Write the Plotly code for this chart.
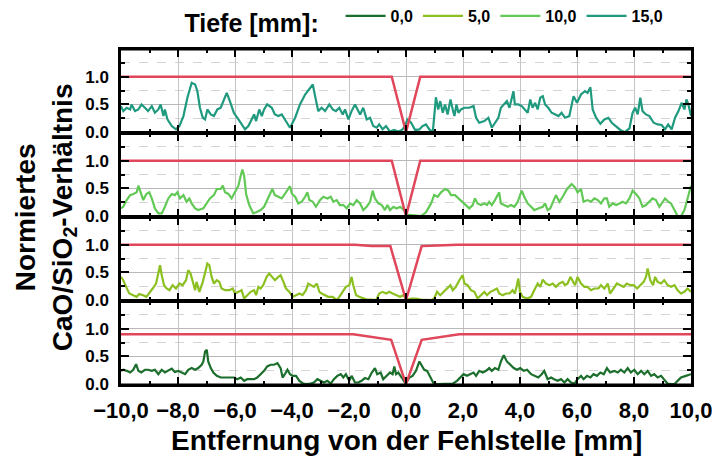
import plotly.graph_objects as go
from plotly.subplots import make_subplots

# ---------------- data ----------------
# Depth 15,0 mm (top panel)
x15 = [-10.0,-9.92,-9.80,-9.68,-9.63,-9.51,-9.39,-9.28,-9.16,-9.05,-8.92,-8.81,-8.69,-8.61,-8.51,-8.46,-8.37,-8.22,-8.07,-7.95,
       -7.81,-7.67,-7.52,-7.40,-7.32,-7.23,-7.13,-7.05,-6.97,-6.85,-6.74,-6.62,-6.50,-6.41,-6.29,-6.18,-6.04,-5.88,-5.77,-5.65,
       -5.53,-5.42,-5.33,-5.26,-5.15,-5.06,-4.98,-4.87,-4.71,-4.60,-4.48,-4.36,-4.25,-4.07,-3.89,-3.72,-3.54,-3.39,-3.27,-3.19,
       -3.08,-2.96,-2.84,-2.69,-2.57,-2.46,-2.34,-2.22,-2.14,-2.02,-1.91,-1.79,-1.71,-1.61,-1.50,-1.38,-1.26,-1.15,-1.03,-0.94,
       -0.82,-0.70,-0.56,-0.42,-0.27,-0.12,-0.04,0.05,0.18,0.32,0.47,0.58,0.70,0.82,0.94,1.05,1.13,1.20,1.29,1.37,
       1.46,1.56,1.64,1.70,1.77,1.84,1.93,2.05,2.22,2.37,2.46,2.57,2.75,2.89,3.01,3.12,3.24,3.33,3.45,3.54,
       3.63,3.71,3.77,3.82,3.94,4.06,4.18,4.27,4.36,4.44,4.53,4.62,4.71,4.80,4.88,4.99,5.11,5.23,5.35,5.46,
       5.58,5.73,5.81,5.88,6.00,6.14,6.28,6.37,6.47,6.55,6.67,6.82,6.96,7.10,7.22,7.37,7.52,7.68,7.84,7.95,
       8.04,8.13,8.22,8.30,8.42,8.54,8.69,8.83,8.97,9.09,9.20,9.32,9.44,9.56,9.67,9.77,9.84,9.91,10.0]
y15 = [0.47,0.38,0.44,0.41,0.50,0.38,0.41,0.50,0.44,0.38,0.47,0.35,0.41,0.50,0.29,0.41,0.23,0.11,0.05,0.11,
       0.29,0.62,0.89,0.86,0.74,0.44,0.26,0.23,0.41,0.32,0.29,0.41,0.44,0.56,0.71,0.56,0.35,0.23,0.14,0.05,
       0.11,0.23,0.32,0.20,0.41,0.29,0.41,0.50,0.44,0.32,0.29,0.32,0.23,0.08,0.26,0.50,0.68,0.77,0.86,0.65,
       0.38,0.44,0.38,0.50,0.41,0.38,0.44,0.32,0.41,0.23,0.38,0.50,0.41,0.32,0.44,0.23,0.26,0.11,0.08,0.14,
       0.05,0.11,0.01,0.04,0.01,0.05,0.11,0.23,0.17,0.04,0.05,0.11,0.14,0.05,0.00,0.63,0.41,0.56,0.35,0.50,
       0.32,0.59,0.41,0.29,0.50,0.35,0.41,0.44,0.44,0.47,0.26,0.17,0.20,0.26,0.08,0.17,0.26,0.44,0.50,0.56,
       0.44,0.65,0.74,0.50,0.50,0.47,0.41,0.35,0.59,0.44,0.53,0.41,0.62,0.65,0.50,0.44,0.35,0.32,0.29,0.35,
       0.26,0.29,0.50,0.65,0.53,0.68,0.74,0.71,0.81,0.41,0.26,0.15,0.23,0.26,0.17,0.11,0.04,0.00,0.07,0.35,
       0.44,0.32,0.62,0.38,0.32,0.29,0.17,0.14,0.13,0.05,0.14,0.05,0.26,0.38,0.53,0.41,0.59,0.50,0.29]

# Depth 10,0 mm
x10 = [-10.0,-9.92,-9.80,-9.68,-9.57,-9.45,-9.39,-9.32,-9.22,-9.11,-9.01,-8.92,-8.81,-8.69,-8.57,-8.46,-8.34,-8.22,-8.11,-8.02,
       -7.93,-7.81,-7.70,-7.60,-7.52,-7.40,-7.29,-7.11,-6.99,-6.88,-6.74,-6.64,-6.50,-6.43,-6.35,-6.23,-6.12,-6.00,-5.88,-5.80,
       -5.74,-5.68,-5.61,-5.50,-5.36,-5.22,-5.10,-4.98,-4.87,-4.77,-4.69,-4.60,-4.48,-4.36,-4.25,-4.16,-4.07,-4.00,-3.89,-3.78,
       -3.66,-3.54,-3.46,-3.39,-3.27,-3.16,-3.02,-2.90,-2.76,-2.64,-2.55,-2.43,-2.32,-2.20,-2.08,-1.96,-1.85,-1.73,-1.61,-1.50,
       -1.38,-1.26,-1.17,-1.09,-0.97,-0.85,-0.74,-0.65,-0.56,-0.44,-0.33,-0.21,-0.07,0.02,0.18,0.35,0.53,0.70,0.88,0.99,
       1.11,1.23,1.37,1.49,1.58,1.72,1.84,1.99,2.11,2.22,2.34,2.42,2.51,2.63,2.75,2.84,2.92,3.01,3.12,3.27,
       3.33,3.45,3.57,3.68,3.80,3.92,4.06,4.15,4.27,4.39,4.50,4.64,4.80,4.88,4.97,5.06,5.15,5.26,5.38,5.50,
       5.65,5.81,5.93,6.02,6.14,6.23,6.37,6.49,6.61,6.73,6.84,6.96,7.05,7.13,7.25,7.37,7.49,7.60,7.72,7.84,
       7.95,8.07,8.19,8.30,8.42,8.54,8.65,8.77,8.89,9.01,9.09,9.20,9.30,9.42,9.53,9.65,9.77,9.88,10.0]
y10 = [0.14,0.17,0.29,0.38,0.40,0.43,0.55,0.43,0.29,0.40,0.43,0.32,0.14,0.05,0.05,0.17,0.32,0.40,0.38,0.43,
       0.32,0.38,0.26,0.32,0.23,0.14,0.11,0.14,0.23,0.32,0.38,0.49,0.49,0.55,0.43,0.40,0.32,0.43,0.55,0.73,
       0.84,0.73,0.40,0.20,0.05,0.08,0.11,0.17,0.29,0.43,0.49,0.38,0.35,0.32,0.40,0.46,0.54,0.40,0.35,0.23,
       0.26,0.35,0.43,0.29,0.26,0.17,0.29,0.35,0.32,0.35,0.26,0.29,0.20,0.20,0.14,0.23,0.20,0.29,0.23,0.11,
       0.17,0.26,0.46,0.32,0.23,0.20,0.11,0.20,0.11,0.17,0.14,0.17,0.11,0.03,0.02,0.00,0.00,0.07,0.23,0.38,
       0.35,0.43,0.49,0.46,0.38,0.38,0.32,0.26,0.20,0.14,0.20,0.32,0.23,0.20,0.23,0.20,0.26,0.20,0.29,0.43,
       0.23,0.20,0.17,0.20,0.17,0.26,0.46,0.35,0.23,0.17,0.11,0.14,0.17,0.23,0.11,0.14,0.26,0.38,0.26,0.35,
       0.49,0.58,0.52,0.43,0.49,0.26,0.29,0.26,0.32,0.29,0.23,0.32,0.32,0.17,0.23,0.20,0.23,0.26,0.23,0.32,
       0.46,0.40,0.32,0.17,0.20,0.26,0.32,0.29,0.17,0.26,0.32,0.26,0.23,0.11,0.00,0.00,0.11,0.32,0.55]

# Depth 5,0 mm
x5 = [-10.0,-9.92,-9.82,-9.71,-9.57,-9.45,-9.36,-9.22,-9.11,-9.01,-8.89,-8.77,-8.69,-8.63,-8.57,-8.49,-8.40,-8.30,-8.19,-8.07,
      -7.95,-7.84,-7.72,-7.64,-7.56,-7.49,-7.40,-7.35,-7.25,-7.13,-7.05,-6.97,-6.90,-6.82,-6.74,-6.64,-6.55,-6.47,-6.35,-6.20,
      -6.08,-6.00,-5.88,-5.77,-5.68,-5.57,-5.45,-5.33,-5.26,-5.18,-5.10,-5.01,-4.89,-4.80,-4.71,-4.60,-4.48,-4.40,-4.30,-4.21,
      -4.09,-3.98,-3.86,-3.74,-3.63,-3.51,-3.43,-3.31,-3.23,-3.13,-3.04,-2.96,-2.84,-2.73,-2.57,-2.43,-2.34,-2.22,-2.11,-1.99,
      -1.91,-1.85,-1.75,-1.64,-1.52,-1.38,-1.24,-1.05,-0.94,-0.82,-0.70,-0.58,-0.47,-0.35,-0.21,-0.09,0.02,0.18,0.35,0.53,
      0.70,0.88,0.99,1.09,1.20,1.32,1.44,1.56,1.64,1.75,1.87,1.99,2.05,2.16,2.28,2.40,2.51,2.63,2.75,2.84,
      2.96,3.08,3.19,3.27,3.39,3.51,3.63,3.74,3.82,3.89,3.94,4.00,4.09,4.25,4.39,4.50,4.62,4.71,4.80,4.91,
      5.03,5.15,5.26,5.38,5.50,5.58,5.67,5.77,5.85,5.93,6.02,6.14,6.26,6.37,6.49,6.61,6.75,6.84,6.96,7.08,
      7.16,7.29,7.40,7.52,7.64,7.75,7.87,7.99,8.11,8.22,8.34,8.42,8.48,8.57,8.67,8.74,8.83,8.95,9.06,9.18,
      9.30,9.42,9.53,9.65,9.77,9.88,10.0]
y5 = [0.42,0.36,0.24,0.12,0.09,0.06,0.11,0.09,0.06,0.12,0.21,0.30,0.48,0.63,0.45,0.27,0.21,0.18,0.27,0.21,
      0.30,0.27,0.36,0.54,0.48,0.33,0.18,0.33,0.15,0.33,0.48,0.66,0.63,0.42,0.30,0.36,0.33,0.21,0.18,0.18,
      0.21,0.12,0.15,0.18,0.03,0.09,0.15,0.18,0.09,0.24,0.21,0.27,0.42,0.48,0.42,0.36,0.42,0.45,0.33,0.21,
      0.15,0.06,0.09,0.12,0.09,0.18,0.30,0.27,0.24,0.30,0.15,0.12,0.09,0.06,0.06,0.00,0.06,0.15,0.24,0.27,
      0.42,0.27,0.09,0.06,0.03,0.01,0.01,0.00,0.12,0.15,0.12,0.15,0.12,0.09,0.06,0.09,0.01,0.03,0.03,0.01,
      0.00,0.00,0.03,0.15,0.09,0.15,0.21,0.27,0.18,0.24,0.36,0.45,0.30,0.27,0.18,0.15,0.03,0.09,0.15,0.09,
      0.15,0.18,0.21,0.12,0.09,0.12,0.12,0.18,0.12,0.27,0.39,0.15,0.06,0.03,0.06,0.18,0.30,0.24,0.37,0.30,
      0.27,0.30,0.24,0.30,0.33,0.27,0.30,0.42,0.33,0.27,0.42,0.30,0.24,0.24,0.18,0.21,0.21,0.27,0.21,0.30,
      0.12,0.21,0.30,0.27,0.24,0.30,0.27,0.27,0.21,0.27,0.33,0.42,0.57,0.36,0.27,0.42,0.33,0.30,0.36,0.27,
      0.24,0.27,0.18,0.12,0.15,0.21,0.15]

# Depth 0,0 mm (bottom panel)
x0 = [-10.0,-9.92,-9.80,-9.68,-9.57,-9.47,-9.39,-9.29,-9.16,-9.05,-8.92,-8.81,-8.69,-8.57,-8.46,-8.34,-8.22,-8.11,-7.99,-7.87,
      -7.75,-7.64,-7.52,-7.40,-7.29,-7.17,-7.11,-7.05,-6.99,-6.94,-6.85,-6.76,-6.64,-6.50,-6.35,-6.18,-6.04,-5.92,-5.80,-5.68,
      -5.57,-5.45,-5.33,-5.22,-5.10,-4.98,-4.87,-4.75,-4.63,-4.51,-4.40,-4.33,-4.25,-4.16,-4.07,-3.98,-3.86,-3.74,-3.60,-3.49,
      -3.35,-3.23,-3.11,-2.99,-2.88,-2.76,-2.64,-2.53,-2.41,-2.29,-2.20,-2.11,-1.99,-1.91,-1.79,-1.67,-1.56,-1.44,-1.32,-1.20,
      -1.09,-1.01,-0.89,-0.80,-0.68,-0.56,-0.47,-0.41,-0.35,-0.27,-0.15,-0.04,0.05,0.12,0.23,0.35,0.47,0.55,0.64,0.74,
      0.85,0.97,1.11,1.29,1.46,1.64,1.79,1.91,2.02,2.14,2.26,2.37,2.46,2.57,2.69,2.81,2.92,3.01,3.12,3.24,
      3.33,3.43,3.54,3.66,3.78,3.89,4.01,4.13,4.25,4.39,4.50,4.64,4.76,4.85,4.97,5.09,5.20,5.32,5.44,5.56,
      5.67,5.79,5.91,6.02,6.14,6.23,6.35,6.47,6.58,6.70,6.82,6.94,7.05,7.16,7.31,7.43,7.54,7.66,7.78,7.89,
      8.01,8.13,8.25,8.36,8.48,8.60,8.71,8.83,8.95,9.06,9.18,9.30,9.42,9.53,9.65,9.82,10.0]
y0 = [0.24,0.26,0.24,0.21,0.26,0.36,0.24,0.21,0.26,0.26,0.24,0.26,0.18,0.26,0.21,0.24,0.28,0.22,0.24,0.21,
      0.18,0.26,0.29,0.26,0.29,0.35,0.41,0.59,0.62,0.41,0.29,0.21,0.15,0.12,0.12,0.12,0.12,0.09,0.12,0.06,
      0.09,0.09,0.09,0.12,0.18,0.24,0.32,0.35,0.35,0.38,0.29,0.12,0.18,0.26,0.18,0.15,0.15,0.06,0.01,0.00,
      0.01,0.03,0.09,0.06,0.03,0.06,0.01,0.09,0.15,0.18,0.12,0.18,0.06,0.15,0.03,0.03,0.06,0.11,0.09,0.21,
      0.29,0.18,0.21,0.09,0.15,0.21,0.18,0.32,0.18,0.21,0.12,0.03,0.06,0.12,0.15,0.24,0.41,0.35,0.26,0.24,
      0.12,0.01,0.00,0.00,0.00,0.01,0.06,0.12,0.18,0.15,0.18,0.21,0.15,0.24,0.21,0.24,0.29,0.24,0.29,0.26,
      0.41,0.52,0.41,0.35,0.29,0.26,0.29,0.24,0.26,0.18,0.15,0.12,0.18,0.24,0.09,0.12,0.09,0.06,0.09,0.03,
      0.09,0.03,0.01,0.09,0.15,0.09,0.15,0.12,0.18,0.15,0.21,0.18,0.29,0.21,0.24,0.21,0.26,0.21,0.29,0.21,
      0.26,0.18,0.24,0.18,0.24,0.15,0.18,0.12,0.15,0.09,0.01,0.00,0.00,0.06,0.12,0.15,0.18]

# Reference (red) profiles per panel
xr15 = [-10.0, -0.5, 0.0, 0.5, 10.0]
yr15 = [1.0, 1.0, 0.0, 1.0, 1.0]
xr10 = [-10.0, -0.5, 0.0, 0.5, 10.0]
yr10 = [1.0, 1.0, 0.0, 1.0, 1.0]
xr5 = [-10.0, -1.8, -1.2, -0.55, 0.0, 0.55, 1.1, 1.8, 10.0]
yr5 = [1.0, 1.0, 0.975, 0.975, 0.0, 0.975, 0.985, 1.0, 1.0]
xr0 = [-10.0, -1.85, -0.52, 0.0, 0.55, 1.87, 10.0]
yr0 = [0.9, 0.9, 0.8, 0.0, 0.8, 0.9, 0.9]

depth_labels = ["0,0", "5,0", "10,0", "15,0"]
x_tickvals = [-10, -8, -6, -4, -2, 0, 2, 4, 6, 8, 10]
x_ticktext = ["\u221210,0", "\u22128,0", "\u22126,0", "\u22124,0", "\u22122,0", "0,0",
              "2,0", "4,0", "6,0", "8,0", "10,0"]
y_tickvals = [0.0, 0.5, 1.0]
y_ticktext = ["0.0", "0.5", "1.0"]
y_minor = [0.25, 0.75, 1.25]

# ---------------- figure ----------------
C_DARK = "#1b6e2c"
C_LIME = "#8cc021"
C_LIGHT = "#62c957"
C_TEAL = "#1f9a7f"
C_RED = "#e0475b"

fig = make_subplots(rows=4, cols=1, shared_xaxes=True, vertical_spacing=0)

series = [(x0, y0, C_DARK, 4, depth_labels[0]),
          (x5, y5, C_LIME, 3, depth_labels[1]),
          (x10, y10, C_LIGHT, 2, depth_labels[2]),
          (x15, y15, C_TEAL, 1, depth_labels[3])]
for xs, ys, col, row, name in series:
    fig.add_trace(go.Scatter(x=xs, y=ys, mode="lines", name=name,
                             line=dict(color=col, width=2.2)), row=row, col=1)

for xs, ys, row in [(xr15, yr15, 1), (xr10, yr10, 2), (xr5, yr5, 3), (xr0, yr0, 4)]:
    fig.add_trace(go.Scatter(x=xs, y=ys, mode="lines", showlegend=False,
                             line=dict(color=C_RED, width=2.5)), row=row, col=1)

FONT = "Liberation Sans, Arial, sans-serif"

for r in range(1, 5):
    fig.update_xaxes(range=[-10, 10], tickmode="array", tickvals=x_tickvals, ticktext=x_ticktext,
                     ticks="inside", ticklen=8, tickwidth=2, tickcolor="black",
                     showline=True, linecolor="black", linewidth=1.5, mirror="allticks",
                     showgrid=True, gridcolor="#c4c4c4", gridwidth=1, zeroline=False,
                     minor=dict(dtick=1, tick0=-10, ticks="inside", ticklen=4, tickwidth=2,
                                tickcolor="black", showgrid=False),
                     showticklabels=(r == 4), ticklabelstandoff=5,
                     tickfont=dict(family=FONT, size=22, color="black", weight="bold"),
                     row=r, col=1)
    fig.update_yaxes(range=[-0.015, 1.5], tickmode="array", tickvals=y_tickvals, ticktext=y_ticktext,
                     ticks="inside", ticklen=8, tickwidth=2, tickcolor="black",
                     showline=True, linecolor="black", linewidth=2.5, mirror="allticks",
                     showgrid=True, gridcolor="#b8b8b8", gridwidth=1, zeroline=False,
                     minor=dict(tickmode="array", tickvals=y_minor, ticks="inside", ticklen=4, tickwidth=2,
                                tickcolor="black", showgrid=True, gridcolor="#d4d4d4", griddash="dash",
                                gridwidth=1),
                     ticklabelstandoff=6,
                     tickfont=dict(family=FONT, size=17, color="black", weight="bold"),
                     row=r, col=1)

fig.update_layout(
    width=712, height=449,
    margin=dict(l=113, r=29, t=41, b=72, autoexpand=False),
    paper_bgcolor="white", plot_bgcolor="white",
    font=dict(family=FONT, color="black"),
    showlegend=True,
    legend=dict(orientation="h", xref="container", yref="container",
                x=0.245, xanchor="left", y=0.972, yanchor="middle",
                title=dict(text="Tiefe [mm]:\u00a0\u00a0", side="left",
                           font=dict(family=FONT, size=25, color="black", weight="bold")),
                font=dict(family=FONT, size=16, color="black", weight="bold"),
                itemwidth=40, bgcolor="rgba(0,0,0,0)"),
    shapes=[
        dict(type="line", xref="paper", yref="paper", x0=0, x1=1, y0=1, y1=1,
             line=dict(color="black", width=3), layer="above"),
        dict(type="line", xref="paper", yref="paper", x0=0, x1=1, y0=0, y1=0,
             line=dict(color="black", width=3), layer="above"),
    ],
    annotations=[
        dict(text="Entfernung von der Fehlstelle [mm]", xref="paper", yref="paper",
             x=0.5, y=-0.165, xanchor="center", yanchor="middle", showarrow=False,
             font=dict(family=FONT, size=28, color="black", weight="bold")),
        dict(text="Normiertes<br>CaO/SiO<sub>2</sub>-Verhältnis", xref="paper", yref="paper",
             x=-0.133, y=0.5, xanchor="center", yanchor="middle", textangle=-90, showarrow=False,
             font=dict(family=FONT, size=28, color="black", weight="bold")),
    ],
)

fig.write_html("out.html")
